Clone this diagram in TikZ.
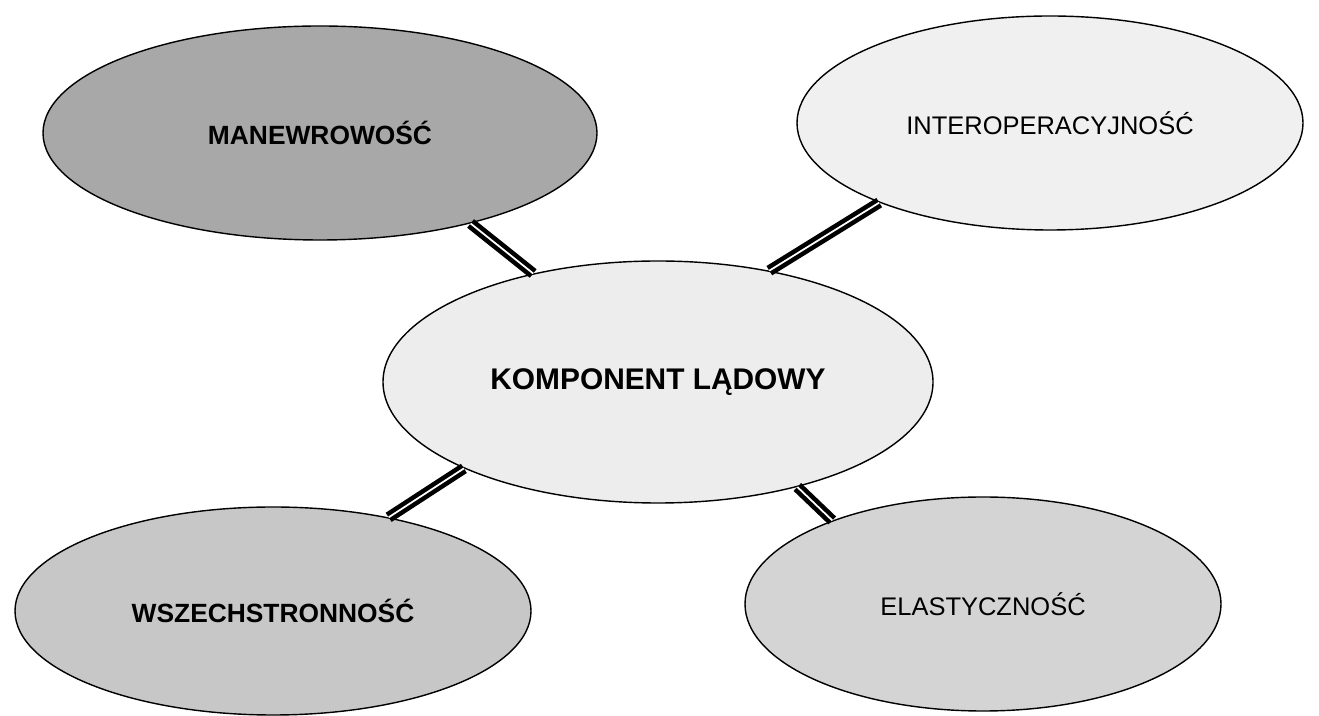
\documentclass[tikz,border=0pt]{standalone}
\usepackage{fontspec}
\setmainfont{Liberation Sans}
\usepackage{tikz}
\usetikzlibrary{shapes.geometric}

\begin{document}
\begin{tikzpicture}[
    ovalnode/.style={ellipse, draw=black, line width=0.8pt, inner sep=0pt},
    boldtext/.style={font=\fontsize{15}{18}\selectfont\bfseries},
    plaintext/.style={font=\fontsize{14.5}{17}\selectfont},
    pipe/.style={draw=black, line width=2.6pt, double=white, double distance=1pt}
    ]
        \useasboundingbox (0,0) rectangle (26.38,14.32);

        %Nodes
        \node[ovalnode, fill=black!7, minimum width=11cm, minimum height=4.84cm,
              font=\fontsize{17}{20}\selectfont\bfseries]
            (komp)  at (13.16,6.68)  {KOMPONENT LĄDOWY};
        \node[ovalnode, boldtext, fill=black!34, minimum width=11.08cm, minimum height=4.28cm]
            (man)   at (6.40,11.66)  {MANEWROWOŚĆ};
        \node[ovalnode, plaintext, fill=black!6, minimum width=10.12cm, minimum height=4.28cm]
            (inter) at (21.00,11.86) {INTEROPERACYJNOŚĆ};
        \node[ovalnode, boldtext, fill=black!22, minimum width=10.32cm, minimum height=4.16cm]
            (wsz)   at (5.46,2.10)   {WSZECHSTRONNOŚĆ};
        \node[ovalnode, plaintext, fill=black!17, minimum width=9.52cm, minimum height=4.28cm]
            (elas)  at (19.66,2.24)  {ELASTYCZNOŚĆ};

        %Lines
        \draw[pipe] (komp.139) -- (man.-31.5);
        \draw[pipe] (komp.45)  -- (inter.205);
        \draw[pipe] (komp.204) -- (wsz.39);
        \draw[pipe] (komp.-37) -- (elas.151);
    \end{tikzpicture}
\end{document}
